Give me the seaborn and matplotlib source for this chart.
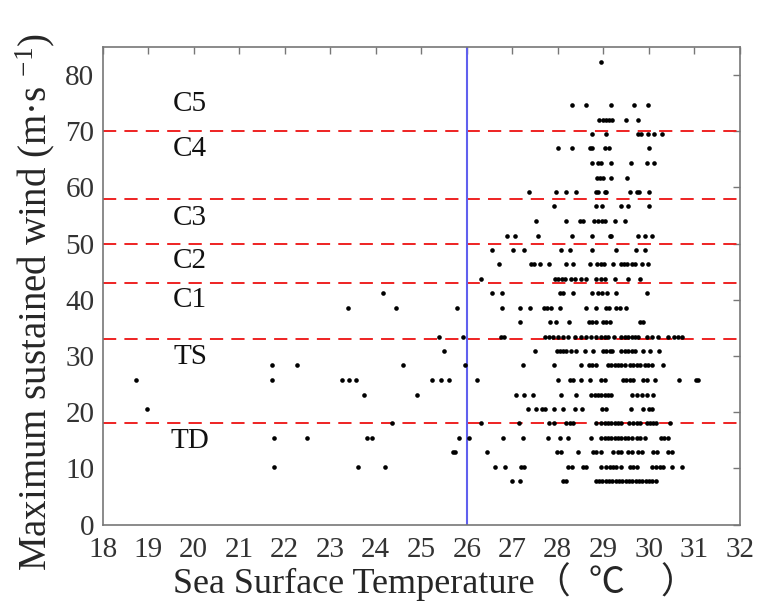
import numpy as np
import pandas as pd
import matplotlib
matplotlib.use("Agg")
import matplotlib.pyplot as plt
import seaborn as sns

# wind levels (m/s) and the SST of every point on that level
w82_3 = [28.96]
w74_6 = [28.31, 28.61, 29.16, 29.67, 29.98]
w72_0 = [28.90, 29.00, 29.07, 29.13, 29.20, 29.50, 29.77]
w69_5 = [28.76, 29.06, 29.77, 29.82, 29.98, 30.11, 30.28]
w66_9 = [28.01, 28.32, 28.71, 28.75, 29.03, 29.13, 30.01]
w64_3 = [28.76, 28.88, 28.96, 29.16, 29.61, 29.96, 30.11]
w61_7 = [28.86, 28.92, 29.00, 29.16, 29.52]
w59_2 = [27.36, 27.97, 28.17, 28.41, 28.83, 28.89, 29.03, 29.07, 29.58, 29.74, 29.78, 30.01]
w56_6 = [27.91, 28.85, 28.97, 29.40, 29.54, 30.01]
w54_0 = [27.53, 28.19, 28.48, 28.56, 28.80, 28.88, 28.97, 29.04, 29.25, 29.47]
w51_4 = [26.88, 27.06, 27.56, 28.32, 28.75, 29.14, 29.18, 29.77, 29.92, 30.06]
w48_9 = [26.56, 27.01, 27.26, 28.07, 28.27, 28.75, 29.27, 29.71, 29.92]
w46_3 = [26.71, 27.41, 27.47, 27.61, 27.80, 28.17, 28.34, 28.71, 28.86, 28.94,
         29.02, 29.22, 29.38, 29.45, 29.52, 29.62, 29.69, 29.84, 29.98]
w43_7 = [26.31, 27.94, 28.01, 28.10, 28.16, 28.30, 28.38, 28.51, 28.63, 28.83,
         28.96, 29.04, 29.25, 29.54, 29.80]
w41_2 = [24.15, 26.56, 26.77, 28.05, 28.11, 28.34, 28.75, 28.89, 28.98, 29.09, 29.29, 29.95]
w38_6 = [23.40, 24.44, 25.78, 26.77, 27.17, 27.39, 27.70, 27.77, 27.86, 28.05,
         28.63, 28.84, 29.07, 29.13, 29.29, 29.36, 29.50]
w36_0 = [27.18, 27.84, 27.96, 28.24, 28.69, 28.76, 28.84, 29.00, 29.07, 29.15, 29.80, 29.88]
w33_4 = [25.39, 25.91, 26.75, 26.82, 27.72, 27.80, 27.90, 28.01, 28.12, 28.23,
         28.38, 28.51, 28.63, 28.74, 28.85, 28.96, 29.04, 29.11, 29.23, 29.40,
         29.47, 29.54, 29.62, 29.69, 29.76, 29.95, 30.06, 30.20, 30.42, 30.55,
         30.65, 30.72]
w30_9 = [25.50, 27.50, 27.99, 28.05, 28.12, 28.19, 28.30, 28.41, 28.60, 28.78,
         29.00, 29.07, 29.15, 29.20, 29.40, 29.47, 29.54, 29.62, 29.69, 29.88,
         30.02, 30.22]
w28_3 = [21.71, 22.28, 24.60, 25.96, 27.24, 27.92, 28.51, 28.69, 28.76, 28.84,
         29.11, 29.18, 29.25, 29.33, 29.40, 29.47, 29.58, 29.66, 29.73, 29.80,
         29.91, 29.98, 30.06, 30.32]
w25_7 = [18.73, 21.71, 23.26, 23.41, 23.56, 25.24, 25.44, 25.61, 26.22, 28.01,
         28.27, 28.34, 28.52, 28.71, 28.96, 29.04, 29.44, 29.51, 29.58, 29.66,
         29.88, 29.95, 30.13, 30.67, 31.03, 31.08]
w23_1 = [23.74, 24.90, 27.08, 27.25, 27.45, 28.06, 28.41, 28.74, 28.81, 28.89,
         28.96, 29.04, 29.11, 29.18, 29.62, 29.73, 29.84, 29.95, 30.10]
w20_6 = [18.97, 27.34, 27.53, 27.66, 27.72, 27.92, 28.12, 28.38, 28.54, 28.98,
         29.07, 29.60, 29.88, 30.00, 30.08]
w18_0 = [24.35, 26.31, 27.15, 27.81, 27.92, 28.19, 28.27, 28.34, 28.84, 28.94,
         29.04, 29.11, 29.18, 29.25, 29.33, 29.40, 29.57, 29.66, 29.73, 29.80,
         29.95, 30.02, 30.10, 30.16, 30.46]
w15_4 = [21.77, 22.50, 23.80, 23.91, 25.83, 26.05, 26.80, 27.24, 27.79, 28.05,
         28.23, 28.74, 28.96, 29.04, 29.11, 29.18, 29.25, 29.33, 29.40, 29.47,
         29.54, 29.62, 29.73, 29.80, 29.91, 30.26, 30.33, 30.43]
w12_9 = [25.70, 25.75, 26.44, 27.99, 28.07, 28.45, 28.78, 28.85, 28.96, 29.22,
         29.33, 29.40, 29.55, 29.62, 29.77, 29.84, 30.10, 30.17, 30.43, 30.50]
w10_3 = [21.77, 23.60, 24.20, 26.62, 26.84, 27.20, 27.26, 28.23, 28.31, 28.56,
         28.63, 28.96, 29.07, 29.15, 29.22, 29.29, 29.40, 29.58, 29.66, 29.73,
         30.08, 30.16, 30.24, 30.32, 30.50, 30.74]
w07_7 = [26.99, 27.17, 28.12, 28.18, 28.84, 28.91, 28.98, 29.06, 29.13, 29.20,
         29.28, 29.35, 29.42, 29.50, 29.57, 29.64, 29.72, 29.79, 29.86, 29.94,
         30.01, 30.08, 30.16]

rows = [(82.3, w82_3), (74.6, w74_6), (72.0, w72_0), (69.5, w69_5), (66.9, w66_9),
        (64.3, w64_3), (61.7, w61_7), (59.2, w59_2), (56.6, w56_6), (54.0, w54_0),
        (51.4, w51_4), (48.9, w48_9), (46.3, w46_3), (43.7, w43_7), (41.2, w41_2),
        (38.6, w38_6), (36.0, w36_0), (33.4, w33_4), (30.9, w30_9), (28.3, w28_3),
        (25.7, w25_7), (23.1, w23_1), (20.6, w20_6), (18.0, w18_0), (15.4, w15_4),
        (12.9, w12_9), (10.3, w10_3), (7.7, w07_7)]

# category thresholds and labels
thresholds = [18, 33, 43, 50, 58, 70]
cat_names = ["TD", "TS", "C1", "C2", "C3", "C4", "C5"]
cat_y = [14.8, 29.8, 40.0, 46.8, 54.6, 66.8, 74.8]
sst_line = 26

df = pd.DataFrame([(s, w) for w, lst in rows for s in lst], columns=["sst", "wind"])

sns.set_style("white")
plt.rcParams["font.family"] = ["Liberation Serif", "Noto Sans CJK SC"]
plt.rcParams["mathtext.fontset"] = "custom"
plt.rcParams["mathtext.rm"] = "Liberation Serif"
plt.rcParams["mathtext.it"] = "Liberation Serif:italic"

fig = plt.figure(figsize=(7.58, 6.15), dpi=100)
ax = fig.add_axes([0.1355, 0.147, 0.8405, 0.777])

sns.scatterplot(data=df, x="sst", y="wind", ax=ax, color="black", s=11,
                linewidth=0, zorder=3)

for t in thresholds:
    ax.axhline(t, color="#ee2222", lw=1.4, dashes=(6.8, 4.2), zorder=2)
ax.axvline(sst_line, color="#6060ee", lw=1.5, zorder=2)

for name, y in zip(cat_names, cat_y):
    ax.text(19.92, y, name, ha="center", va="center", fontsize=21, color="#111111")

ax.set_xlim(18, 32)
ax.set_ylim(0, 85)
ax.set_xticks(np.arange(18, 33, 1))
ax.set_yticks(np.arange(0, 81, 10))
ax.tick_params(direction="in", length=5, width=1, colors="#777777",
               labelcolor="#333333", labelsize=21, top=True, right=True)
ax.tick_params(axis="x", pad=9)
ax.tick_params(axis="y", pad=6)
for sp in ax.spines.values():
    sp.set_color("#777777")
    sp.set_linewidth(1.2)

ax.set_xlabel("Sea Surface Temperature（  ℃    ）", fontsize=26)
ax.xaxis.set_label_coords(0.522, -0.078)
ax.set_ylabel("Maximum sustained wind (m·s $^{-1}$)", fontsize=28)
ax.yaxis.set_label_coords(-0.072, 0.465)

fig.savefig("out.png", dpi=100)
